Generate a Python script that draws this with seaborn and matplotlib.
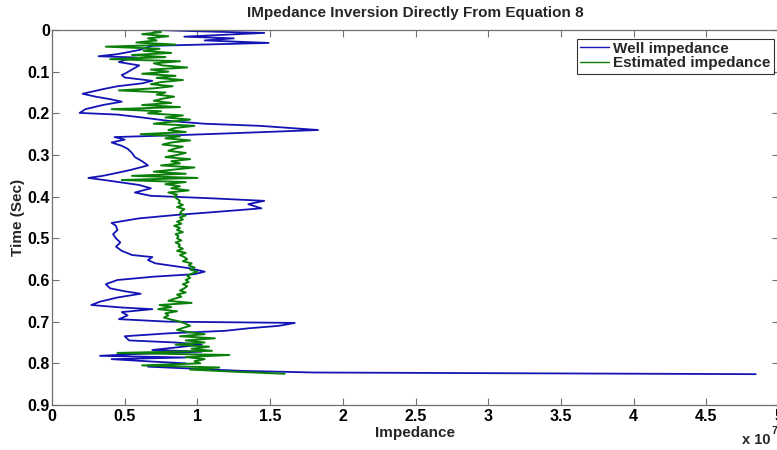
import numpy as np
import pandas as pd
import matplotlib
matplotlib.use("Agg")
import matplotlib.pyplot as plt
from matplotlib.ticker import FuncFormatter, MultipleLocator
import seaborn as sns

# ---- data (impedance in units of 1e7) ----
well_time = [0.000, 0.003, 0.007, 0.012, 0.016, 0.020, 0.025, 0.031, 0.038, 0.048,
             0.058, 0.063, 0.066, 0.072, 0.077, 0.085, 0.095, 0.105, 0.108, 0.114,
             0.122, 0.128, 0.135, 0.142, 0.146, 0.153, 0.160, 0.166, 0.172, 0.180,
             0.190, 0.199, 0.203, 0.210, 0.218, 0.225, 0.230, 0.240, 0.247, 0.252,
             0.257, 0.263, 0.270, 0.278, 0.285, 0.295, 0.305, 0.315, 0.325, 0.335,
             0.342, 0.350, 0.355, 0.362, 0.372, 0.380, 0.390, 0.398, 0.404, 0.410,
             0.418, 0.428, 0.436, 0.444, 0.452, 0.463, 0.470, 0.480, 0.490, 0.500,
             0.510, 0.520, 0.530, 0.540, 0.545, 0.552, 0.560, 0.567, 0.572, 0.580,
             0.586, 0.592, 0.600, 0.610, 0.620, 0.627, 0.633, 0.642, 0.652, 0.660,
             0.666, 0.670, 0.677, 0.685, 0.694, 0.700, 0.703, 0.710, 0.716, 0.722,
             0.728, 0.735, 0.745, 0.750, 0.755, 0.762, 0.768, 0.772, 0.778, 0.782,
             0.786, 0.790, 0.796, 0.800, 0.808, 0.812, 0.818, 0.822, 0.826]
well_imp = [0.72, 1.00, 1.46, 1.15, 0.91, 1.25, 1.05, 1.49, 0.69, 0.60,
            0.45, 0.32, 0.58, 0.50, 0.46, 0.60, 0.55, 0.50, 0.48, 0.50,
            0.69, 0.62, 0.45, 0.35, 0.30, 0.21, 0.30, 0.40, 0.48, 0.35,
            0.23, 0.19, 0.45, 0.62, 0.80, 1.05, 1.43, 1.83, 1.30, 0.90,
            0.43, 0.50, 0.41, 0.48, 0.52, 0.55, 0.57, 0.62, 0.66, 0.55,
            0.46, 0.35, 0.25, 0.40, 0.60, 0.68, 0.57, 0.68, 1.10, 1.46,
            1.35, 1.44, 1.15, 0.85, 0.60, 0.41, 0.44, 0.45, 0.42, 0.44,
            0.47, 0.44, 0.48, 0.55, 0.69, 0.66, 0.71, 0.85, 0.95, 1.05,
            0.98, 0.70, 0.45, 0.37, 0.40, 0.50, 0.61, 0.45, 0.33, 0.27,
            0.48, 0.69, 0.48, 0.52, 0.46, 0.80, 1.67, 1.56, 1.35, 1.19,
            0.80, 0.50, 0.53, 0.85, 1.03, 0.85, 0.69, 1.03, 0.55, 0.33,
            0.92, 0.41, 0.70, 0.92, 0.66, 0.92, 1.30, 1.80, 4.84]

est_imp = [0.68, 0.75, 0.62, 0.80, 0.66, 0.72, 0.58, 0.85, 0.37, 0.74,
           0.63, 0.82, 0.55, 0.78, 0.40, 0.88, 0.70, 0.76, 0.93, 0.68,
           0.80, 0.62, 0.85, 0.72, 0.90, 0.75, 0.68, 0.83, 0.70, 0.46,
           0.78, 0.72, 0.84, 0.76, 0.70, 0.82, 0.62, 0.88, 0.41, 0.75,
           0.66, 0.90, 0.78, 0.95, 0.82, 0.70, 0.98, 0.85, 0.80, 0.92,
           0.61, 0.88, 0.78, 0.95, 0.82, 0.76, 0.90, 0.84, 0.80, 0.92,
           0.86, 0.78, 0.95, 0.82, 0.88, 0.75, 0.98, 0.84, 0.70, 0.92,
           0.55, 1.00, 0.48, 0.92, 0.78, 0.88, 0.82, 0.94, 0.80, 0.86,
           0.84, 0.86, 0.88, 0.87, 0.90, 0.86, 0.91, 0.89, 0.88, 0.92,
           0.88, 0.90, 0.86, 0.89, 0.84, 0.88, 0.86, 0.90, 0.85, 0.87,
           0.86, 0.89, 0.85, 0.88, 0.87, 0.90, 0.86, 0.92, 0.88, 0.91,
           0.93, 0.90, 0.96, 0.94, 0.98, 0.95, 1.00, 0.96, 0.93, 0.95,
           0.92, 0.94, 0.90, 0.93, 0.91, 0.88, 0.92, 0.86, 0.89, 0.84,
           0.80, 0.96, 0.74, 0.82, 0.73, 0.86, 0.78, 0.80, 0.77, 0.82,
           0.88, 0.92, 0.95, 0.90, 0.86, 0.94, 1.05, 0.88, 1.12, 0.92,
           1.05, 0.85, 1.08, 0.96, 1.10, 0.45, 1.22, 0.92, 1.05, 0.98,
           1.02, 0.62, 1.15, 0.95, 1.25, 1.60]
est_dt = 0.005  # sampling interval of estimated trace (s)
est_time = np.arange(len(est_imp)) * est_dt

title = "IMpedance Inversion Directly From Equation 8"
x_label = "Impedance"
y_label = "Time (Sec)"
series_names = ["Well impedance", "Estimated impedance"]

# ---- styling ----
sns.set_style("white")
plt.rcParams["font.family"] = ["Liberation Sans", "DejaVu Sans"]
plt.rcParams["font.weight"] = "bold"

W, H = 777, 450
fig = plt.figure(figsize=(W / 100, H / 100), dpi=100)
ax = fig.add_axes([52 / W, 45 / H, 727 / W, 375 / H])

well_df = pd.DataFrame({"imp": well_imp, "time": well_time})
est_df = pd.DataFrame({"imp": est_imp, "time": est_time})

sns.lineplot(data=well_df, x="imp", y="time", orient="y", sort=False, estimator=None,
             color="#1414b4", lw=1.3, ax=ax, label=series_names[0])
sns.lineplot(data=est_df, x="imp", y="time", orient="y", sort=False, estimator=None,
             color="#0a800a", lw=1.4, ax=ax, label=series_names[1])

ax.set_xlim(0, 5)
ax.set_ylim(0.9, 0)
ax.xaxis.set_major_locator(MultipleLocator(0.5))
ax.yaxis.set_major_locator(MultipleLocator(0.1))
fmt = FuncFormatter(lambda v, p: "%g" % round(v, 3))
ax.xaxis.set_major_formatter(fmt)
ax.yaxis.set_major_formatter(fmt)

spine_c = "#707070"
for s in ax.spines.values():
    s.set_visible(True)
    s.set_color(spine_c)
    s.set_linewidth(0.9)
ax.tick_params(direction="in", length=5, width=0.8, color=spine_c,
               top=True, right=True, bottom=True, left=True,
               labelsize=11.5, labelcolor="black")
ax.tick_params(axis="x", pad=3)
ax.tick_params(axis="y", pad=1.5)
for lab in ax.get_xticklabels() + ax.get_yticklabels():
    lab.set_fontweight("bold")

ax.set_xlabel(x_label, fontsize=11, fontweight="bold", labelpad=1)
ax.set_ylabel(y_label, fontsize=11, fontweight="bold", labelpad=2)
ax.set_title(title, fontsize=11, fontweight="bold", pad=9)

leg = ax.legend(loc="upper right", bbox_to_anchor=(0.997, 0.985), fontsize=11,
                frameon=True, fancybox=False, borderpad=0.2, handlelength=1.9,
                handletextpad=0.3, labelspacing=0.05, borderaxespad=0.2)
leg.get_frame().set_edgecolor("black")
leg.get_frame().set_linewidth(0.8)
for t in leg.get_texts():
    t.set_fontweight("bold")
for l in leg.get_lines():
    l.set_linewidth(1.0)

fig.text(742 / W, 1 - 440 / H, "x 10", fontsize=10.5, fontweight="bold",
         ha="left", va="center")
fig.text(771 / W, 1 - 431 / H, "7", fontsize=7.5, fontweight="bold",
         ha="left", va="center")

fig.savefig("out.png", dpi=100, facecolor="white")
